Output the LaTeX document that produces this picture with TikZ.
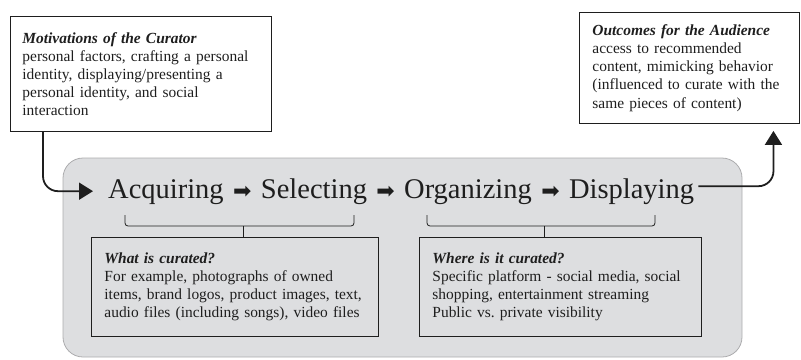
\documentclass[tikz,border=0pt]{standalone}
\usepackage{fontspec}
\setmainfont{Liberation Serif}
\newfontfamily\symfont{DejaVu Sans}
\usetikzlibrary{positioning,arrows.meta}
\frenchspacing

\definecolor{panelgrey}{RGB}{221,222,224}
\definecolor{panelline}{RGB}{172,172,174}
\definecolor{inkgrey}{RGB}{30,30,30}

\newcommand{\stepto}{\hspace{2.3bp}{\symfont\fontsize{22}{22}\selectfont ➡}\hspace{2.3bp}}

\begin{document}
\begin{tikzpicture}[x=1bp,y=-1bp,
  every node/.style={inner sep=0pt, text=inkgrey},
  notebox/.style={draw=inkgrey, line width=0.9bp, align=left, inner xsep=13bp,
    font=\fontsize{15.5}{18.2}\selectfont, anchor=north west},
  flowline/.style={draw=inkgrey, line width=1.8bp, rounded corners=15bp,
    -{Triangle[length=14bp,width=17bp]}},
  groupbrace/.style={draw=inkgrey, line width=0.8bp, rounded corners=3bp}]
\useasboundingbox (0,0) rectangle (801,359);
% grey panel behind the four steps
\filldraw[fill=panelgrey, draw=panelline, line width=0.8bp, rounded corners=20bp] (63,158) rectangle (742,357);

\node[notebox, inner xsep=12bp, text width=237bp, minimum height=115bp] (motiv) at (10,16)
  {\textbf{\textit{Motivations of the Curator}}\\personal factors, crafting a personal\\identity, displaying/presenting a\\personal identity, and social\\interaction};
\node[notebox, text width=194bp, minimum height=111bp] (outc) at (579,12)
  {\textbf{\textit{Outcomes for the Audience}}\\access to recommended\\content, mimicking behavior\\(influenced to curate with the\\same pieces of content)};

\node[anchor=base west, font=\fontsize{28.6}{34}\selectfont] (steps) at (108,198)
  {Acquiring \stepto{} Selecting \stepto{} Organizing \stepto{} Displaying};

\node[notebox, text width=261bp, minimum height=99bp] (what) at (91,237)
  {\textbf{\textit{What is curated?}}\\For example, photographs of owned\\items, brand logos, product images, text,\\audio files (including songs), video files};
\node[notebox, text width=256bp, minimum height=99bp] (where) at (419,237)
  {\textbf{\textit{Where is it curated?}}\\Specific platform - social media, social\\shopping, entertainment streaming\\Public vs. private visibility};

% brackets under the step pairs
\draw[groupbrace] (125,215) -- (125,226) -- (354,226) -- (354,215);
\draw[groupbrace] (243,226) -- (243,237);
\draw[groupbrace] (427,215) -- (427,226) -- (655,226) -- (655,215);
\draw[groupbrace] (544,226) -- (544,237);

% flow in and out
\draw[flowline] ([xshift=33bp]motiv.south west) |- ([xshift=-15bp]steps.west);
\draw[flowline] ([xshift=4bp,yshift=5bp]steps.east) -| ([xshift=84bp,yshift=-7bp]outc.south);
\end{tikzpicture}
\end{document}
